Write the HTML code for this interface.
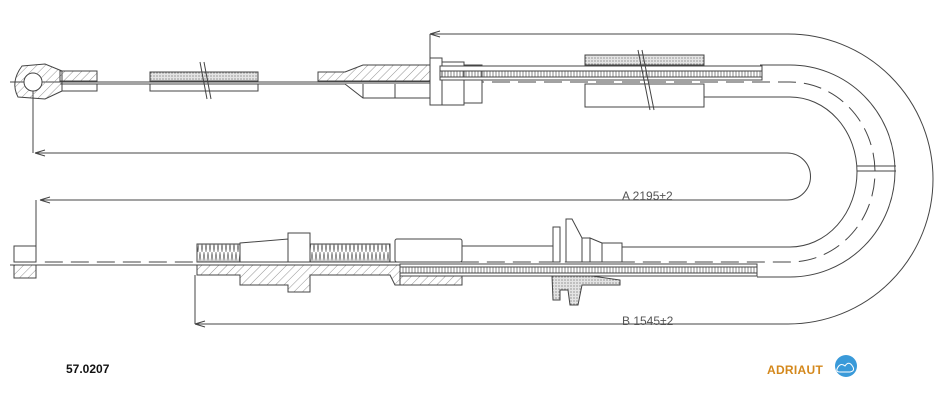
<!DOCTYPE html>
<html><head><meta charset="utf-8"><style>
html,body{margin:0;padding:0;background:#fff;}
svg{display:block;}
text{font-family:"Liberation Sans",sans-serif;}
</style></head><body>
<svg width="950" height="405" viewBox="0 0 950 405" xmlns="http://www.w3.org/2000/svg">
<defs>
<pattern id="h" width="6" height="6" patternUnits="userSpaceOnUse" patternTransform="rotate(45)"><line x1="0" y1="0" x2="0" y2="6" stroke="#777" stroke-width="0.8"/></pattern>
<pattern id="s" width="3" height="3" patternUnits="userSpaceOnUse"><rect width="3" height="3" fill="#e4e4e4"/><circle cx="1" cy="1" r="0.6" fill="#666"/></pattern>
<pattern id="t" width="3" height="8" patternUnits="userSpaceOnUse"><line x1="1" y1="0" x2="1" y2="8" stroke="#555" stroke-width="0.7"/></pattern>
<pattern id="th" width="4" height="18" patternUnits="userSpaceOnUse"><path d="M0 0 L2 18 L4 0" fill="none" stroke="#666" stroke-width="0.7"/></pattern>
</defs>
<g fill="none" stroke="#444" stroke-width="1">
<path d="M430 34 H788 A145 145 0 0 1 788 324 H195"/>
<path d="M430 34 L440 31 M430 34 L440 37"/>
<line x1="430" y1="34" x2="430" y2="58"/>
<path d="M195 324 L205 321 M195 324 L205 327"/>
<line x1="195" y1="275" x2="195" y2="324"/>
<path d="M35 153 H787 A23.5 23.5 0 0 1 787 200 H40"/>
<path d="M35 153 L45 150 M35 153 L45 156"/>
<path d="M40 200 L50 197 M40 200 L50 203"/>
<line x1="33" y1="91" x2="33" y2="153"/>
<line x1="36" y1="200" x2="36" y2="246"/>
<path d="M760 65 H790 A105 106 0 0 1 790 277 H757"/>
<path d="M700 97 H790 A67 75 0 0 1 790 247 H622"/>
<path d="M440 82 H790 A85 90 0 0 1 790 262 H40" stroke-dasharray="18 8"/>
<line x1="857" y1="166" x2="896" y2="166"/><line x1="857" y1="171" x2="896" y2="171"/>
<line x1="10" y1="82" x2="440" y2="82"/>
<line x1="60" y1="84" x2="440" y2="84"/>
<path d="M22 66 L45 64 L62 71 L62 91 L45 99 L18 97 Q10 82 22 66Z" fill="url(#h)"/>
<circle cx="33" cy="82" r="9" fill="#fff"/>
<rect x="60" y="71" width="37" height="10" fill="url(#h)"/>
<rect x="62" y="84" width="35" height="7" fill="#fff"/>
<rect x="150" y="72" width="108" height="9" fill="url(#s)"/>
<rect x="150" y="84" width="108" height="7" fill="#fff"/>
<path d="M200 62 L207 99 M204 62 L211 99"/>
<path d="M318 72 H345 L363 65 H430 V81 H318Z" fill="url(#h)"/>
<path d="M318 84 H345 L363 98 H430 V84" fill="#fff"/>
<line x1="363" y1="84" x2="363" y2="98"/><line x1="395" y1="84" x2="395" y2="98"/>
<rect x="430" y="58" width="12" height="47" fill="#fff"/>
<rect x="442" y="62" width="22" height="43" fill="#fff"/>
<rect x="464" y="65" width="18" height="38" fill="#fff"/>
<rect x="440" y="66" width="322" height="5" fill="#fff"/>
<rect x="440" y="71" width="322" height="6" fill="url(#t)"/>
<rect x="440" y="77" width="322" height="3" fill="#fff"/>
<rect x="585" y="55" width="119" height="10" fill="url(#s)"/>
<rect x="585" y="84" width="119" height="23" fill="#fff"/>
<path d="M638 50 L650 110 M642 50 L654 110"/>
<rect x="14" y="246" width="22" height="16" fill="#fff"/>
<rect x="14" y="265" width="22" height="13" fill="url(#h)"/>
<line x1="10" y1="265" x2="197" y2="265"/>
<rect x="197" y="244" width="43" height="18" fill="url(#th)"/>
<path d="M240 243 L288 239 V262 H240Z" fill="#fff"/>
<rect x="288" y="233" width="22" height="29" fill="#fff"/>
<rect x="310" y="244" width="80" height="18" fill="url(#th)"/>
<rect x="395" y="239" width="67" height="23" rx="2" fill="#fff"/>
<line x1="462" y1="246" x2="553" y2="246"/>
<path d="M197 265 H400 V285 H395 L390 275 H310 V292 H288 V285 H240 V275 H197Z" fill="url(#h)"/>
<rect x="400" y="275" width="62" height="10" fill="url(#h)"/>
<rect x="400" y="264" width="357" height="3" fill="#fff"/>
<rect x="400" y="267" width="357" height="6" fill="url(#t)"/>
<rect x="400" y="273" width="357" height="3" fill="#fff"/>
<rect x="553" y="227" width="7" height="35" fill="#fff"/>
<path d="M566 219 H572 L582 238 V262 H566Z" fill="#fff"/>
<rect x="582" y="238" width="8" height="24" fill="#fff"/>
<path d="M590 238 L602 243 V262 H590Z" fill="#fff"/>
<rect x="602" y="243" width="20" height="19" fill="#fff"/>
<path d="M552 276 H592 L620 280 V285 L582 285 L578 305 H570 L568 290 H560 V300 H553Z" fill="url(#s)"/>
</g>
<text x="622" y="200" font-size="12" fill="#555" font-family="Liberation Mono,monospace">A 2195±2</text>
<text x="622" y="325" font-size="12" fill="#555" font-family="Liberation Mono,monospace">B 1545±2</text>
<text x="66" y="373" font-size="12" font-weight="bold" fill="#111">57.0207</text>
<text x="767" y="374" font-size="12" font-weight="bold" fill="#d4881c" letter-spacing="0.3">ADRIAUT</text>
<circle cx="846" cy="366" r="11" fill="#3a9ad9"/>
<path d="M837 369 q3 -7 8 -3 q4 -6 8 1 q2 4 -3 5 h-10 q-4 0 -3 -3z" fill="none" stroke="#fff" stroke-width="1"/>
</svg>
</body></html>
